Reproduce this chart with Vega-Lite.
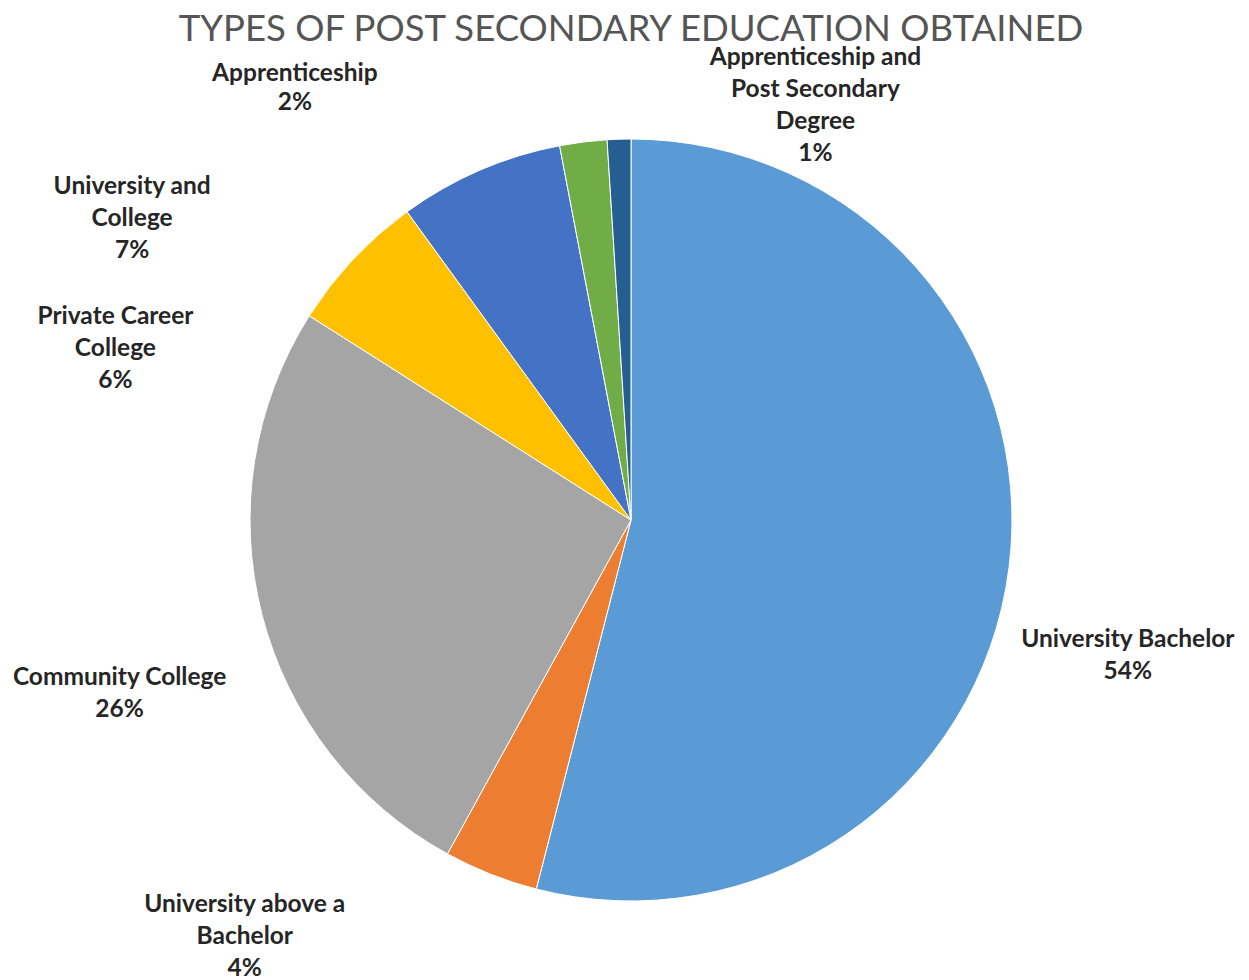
{
  "$schema": "https://vega.github.io/schema/vega-lite/v6.json",
  "width": 1236,
  "height": 920,
  "autosize": {"type": "none"},
  "padding": {"left": 13, "top": 60, "right": 0, "bottom": 0},
  "background": "white",
  "config": {"view": {"stroke": null}},
  "title": {
    "text": "TYPES OF POST SECONDARY EDUCATION OBTAINED",
    "font": "Lato",
    "fontSize": 36.5,
    "fontWeight": "normal",
    "color": "#555555",
    "anchor": "middle",
    "frame": "group",
    "baseline": "alphabetic",
    "offset": -32
  },
  "data": {
    "values": [
      {"order": 1, "category": "University Bachelor", "value": 54, "label": "University Bachelor\n54%"},
      {"order": 2, "category": "University above a Bachelor", "value": 4, "label": "University above a\nBachelor\n4%"},
      {"order": 3, "category": "Community College", "value": 26, "label": "Community College\n26%"},
      {"order": 4, "category": "Private Career College", "value": 6, "label": "Private Career\nCollege\n6%"},
      {"order": 5, "category": "University and College", "value": 7, "label": "University and\nCollege\n7%"},
      {"order": 6, "category": "Apprenticeship", "value": 2, "label": "Apprenticeship\n2%"},
      {"order": 7, "category": "Apprenticeship and Post Secondary Degree", "value": 1, "label": "Apprenticeship and\nPost Secondary\nDegree\n1%"}
    ]
  },
  "encoding": {
    "theta": {"field": "value", "type": "quantitative", "stack": true},
    "order": {"field": "order", "type": "quantitative"}
  },
  "layer": [
    {
      "mark": {"type": "arc", "outerRadius": 381, "stroke": "white", "strokeWidth": 1},
      "encoding": {
        "color": {
          "field": "category",
          "type": "nominal",
          "legend": null,
          "scale": {
            "domain": ["University Bachelor", "University above a Bachelor", "Community College", "Private Career College", "University and College", "Apprenticeship", "Apprenticeship and Post Secondary Degree"],
            "range": ["#5B9BD5", "#ED7D31", "#A5A5A5", "#FFC000", "#4472C4", "#70AD47", "#255E91"]
          }
        }
      }
    },
    {
      "mark": {"type": "text", "radius": 400, "font": "Lato", "fontWeight": "bold", "fontSize": 24.5, "color": "#262626", "lineHeight": 32, "align": "center", "baseline": "middle", "lineBreak": "\n", "dx": 100, "dy": 70},
      "encoding": {"text": {"condition": {"test": "datum.category === 'University Bachelor'", "field": "label", "type": "nominal"}, "value": ""}}
    },
    {
      "mark": {"type": "text", "radius": 400, "font": "Lato", "fontWeight": "bold", "fontSize": 24.5, "color": "#262626", "lineHeight": 32, "align": "center", "baseline": "middle", "lineBreak": "\n", "dx": -239, "dy": 13},
      "encoding": {"text": {"condition": {"test": "datum.category === 'University above a Bachelor'", "field": "label", "type": "nominal"}, "value": ""}}
    },
    {
      "mark": {"type": "text", "radius": 400, "font": "Lato", "fontWeight": "bold", "fontSize": 24.5, "color": "#262626", "lineHeight": 32, "align": "center", "baseline": "middle", "lineBreak": "\n", "dx": -124, "dy": 59},
      "encoding": {"text": {"condition": {"test": "datum.category === 'Community College'", "field": "label", "type": "nominal"}, "value": ""}}
    },
    {
      "mark": {"type": "text", "radius": 400, "font": "Lato", "fontWeight": "bold", "fontSize": 24.5, "color": "#262626", "lineHeight": 32, "align": "center", "baseline": "middle", "lineBreak": "\n", "dx": -224, "dy": 71},
      "encoding": {"text": {"condition": {"test": "datum.category === 'Private Career College'", "field": "label", "type": "nominal"}, "value": ""}}
    },
    {
      "mark": {"type": "text", "radius": 400, "font": "Lato", "fontWeight": "bold", "fontSize": 24.5, "color": "#262626", "lineHeight": 32, "align": "center", "baseline": "middle", "lineBreak": "\n", "dx": -340, "dy": 34},
      "encoding": {"text": {"condition": {"test": "datum.category === 'University and College'", "field": "label", "type": "nominal"}, "value": ""}}
    },
    {
      "mark": {"type": "text", "radius": 400, "font": "Lato", "fontWeight": "bold", "fontSize": 24.5, "color": "#262626", "lineHeight": 29, "align": "center", "baseline": "middle", "lineBreak": "\n", "dx": -286, "dy": -49},
      "encoding": {"text": {"condition": {"test": "datum.category === 'Apprenticeship'", "field": "label", "type": "nominal"}, "value": ""}}
    },
    {
      "mark": {"type": "text", "radius": 400, "font": "Lato", "fontWeight": "bold", "fontSize": 24.5, "color": "#262626", "lineHeight": 32, "align": "center", "baseline": "middle", "lineBreak": "\n", "dx": 197, "dy": -62},
      "encoding": {"text": {"condition": {"test": "datum.category === 'Apprenticeship and Post Secondary Degree'", "field": "label", "type": "nominal"}, "value": ""}}
    }
  ]
}
